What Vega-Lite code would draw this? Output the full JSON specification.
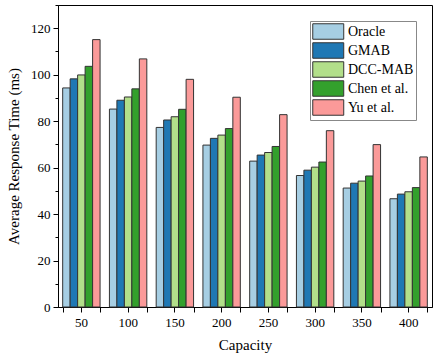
{
  "$schema": "https://vega.github.io/schema/vega-lite/v6.json",
  "autosize": "none",
  "width": 374,
  "height": 302,
  "padding": {"left": 58, "top": 5, "right": 6, "bottom": 51},
  "background": "white",
  "config": {
    "view": {"stroke": "#000", "strokeWidth": 1},
    "font": "Liberation Serif",
    "axis": {"labelFont": "Liberation Serif", "titleFont": "Liberation Serif", "labelColor": "#000", "titleColor": "#000", "domainColor": "#000", "tickColor": "#000", "grid": false, "titleFontWeight": "normal"}
  },
  "data": {"values": [
    {"capacity": 50, "method": "Oracle", "value": 94.3},
    {"capacity": 50, "method": "GMAB", "value": 98.2},
    {"capacity": 50, "method": "DCC-MAB", "value": 99.9},
    {"capacity": 50, "method": "Chen et al.", "value": 103.6},
    {"capacity": 50, "method": "Yu et al.", "value": 115.1},
    {"capacity": 100, "method": "Oracle", "value": 85.2},
    {"capacity": 100, "method": "GMAB", "value": 89.0},
    {"capacity": 100, "method": "DCC-MAB", "value": 90.4},
    {"capacity": 100, "method": "Chen et al.", "value": 93.9},
    {"capacity": 100, "method": "Yu et al.", "value": 106.8},
    {"capacity": 150, "method": "Oracle", "value": 77.3},
    {"capacity": 150, "method": "GMAB", "value": 80.5},
    {"capacity": 150, "method": "DCC-MAB", "value": 81.9},
    {"capacity": 150, "method": "Chen et al.", "value": 85.1},
    {"capacity": 150, "method": "Yu et al.", "value": 98.0},
    {"capacity": 200, "method": "Oracle", "value": 69.7},
    {"capacity": 200, "method": "GMAB", "value": 72.6},
    {"capacity": 200, "method": "DCC-MAB", "value": 74.0},
    {"capacity": 200, "method": "Chen et al.", "value": 76.8},
    {"capacity": 200, "method": "Yu et al.", "value": 90.3},
    {"capacity": 250, "method": "Oracle", "value": 62.8},
    {"capacity": 250, "method": "GMAB", "value": 65.4},
    {"capacity": 250, "method": "DCC-MAB", "value": 66.5},
    {"capacity": 250, "method": "Chen et al.", "value": 69.1},
    {"capacity": 250, "method": "Yu et al.", "value": 82.8},
    {"capacity": 300, "method": "Oracle", "value": 56.6},
    {"capacity": 300, "method": "GMAB", "value": 58.9},
    {"capacity": 300, "method": "DCC-MAB", "value": 60.2},
    {"capacity": 300, "method": "Chen et al.", "value": 62.4},
    {"capacity": 300, "method": "Yu et al.", "value": 75.9},
    {"capacity": 350, "method": "Oracle", "value": 51.2},
    {"capacity": 350, "method": "GMAB", "value": 53.3},
    {"capacity": 350, "method": "DCC-MAB", "value": 54.2},
    {"capacity": 350, "method": "Chen et al.", "value": 56.4},
    {"capacity": 350, "method": "Yu et al.", "value": 69.9},
    {"capacity": 400, "method": "Oracle", "value": 46.6},
    {"capacity": 400, "method": "GMAB", "value": 48.6},
    {"capacity": 400, "method": "DCC-MAB", "value": 49.6},
    {"capacity": 400, "method": "Chen et al.", "value": 51.4},
    {"capacity": 400, "method": "Yu et al.", "value": 64.6}
  ]},
  "layer": [
    {
      "mark": {"type": "bar", "stroke": "#333", "strokeWidth": 1},
      "encoding": {
        "x": {"field": "capacity", "type": "ordinal",
              "scale": {"paddingInner": 0.2, "paddingOuter": 0.1},
              "axis": {"orient": "bottom", "title": "Capacity", "labelAngle": 0, "labelFontSize": 13, "titleFontSize": 15, "tickSize": 5, "labelPadding": 4, "titlePadding": 8}},
        "xOffset": {"field": "method", "type": "nominal",
              "sort": ["Oracle", "GMAB", "DCC-MAB", "Chen et al.", "Yu et al."],
              "scale": {"paddingInner": 0, "paddingOuter": 0}},
        "y": {"field": "value", "type": "quantitative",
              "scale": {"domain": [0, 130], "nice": false},
              "axis": {"orient": "left", "title": "Average Response Time (ms)", "values": [0, 20, 40, 60, 80, 100, 120], "labelFontSize": 13, "titleFontSize": 15, "tickSize": 5, "labelPadding": 3, "titlePadding": 9}},
        "color": {"field": "method", "type": "nominal",
              "sort": ["Oracle", "GMAB", "DCC-MAB", "Chen et al.", "Yu et al."],
              "scale": {"range": ["#a6cee3", "#1f78b4", "#b2df8a", "#33a02c", "#fb9a99"]},
              "legend": {"title": null, "orient": "none", "legendX": 252, "legendY": 16,
                         "symbolType": "M-1,-1H3V1H-1Z", "symbolSize": 240,
                         "symbolStrokeColor": "#333", "symbolStrokeWidth": 1, "symbolOpacity": 1,
                         "labelFont": "Liberation Serif", "labelFontSize": 14, "labelFontWeight": "normal", "labelColor": "#000",
                         "labelOffset": 19, "rowPadding": -4.75,
                         "strokeColor": "#888", "padding": 2, "fillColor": "white"}}
      }
    },
    {
      "mark": {"type": "bar", "opacity": 0},
      "encoding": {
        "x": {"field": "capacity", "type": "ordinal",
              "axis": {"orient": "bottom", "title": null, "labels": false, "domain": false, "tickBand": "extent", "tickSize": 5}},
        "y": {"field": "value", "type": "quantitative",
              "axis": {"orient": "left", "title": null, "labels": false, "domain": false, "values": [10, 30, 50, 70, 90, 110, 130], "tickSize": 3}}
      }
    }
  ],
  "resolve": {"axis": {"x": "independent", "y": "independent"}}
}
